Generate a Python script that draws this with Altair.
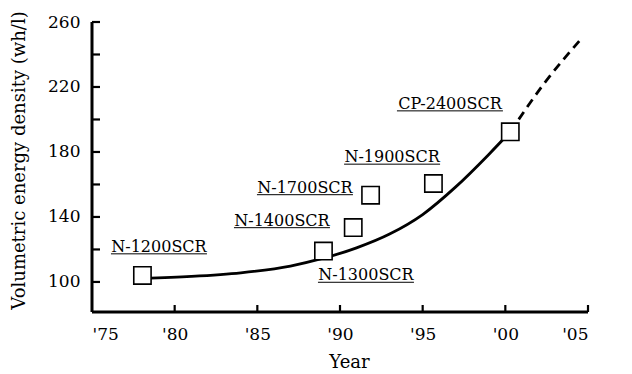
import altair as alt
import pandas as pd

# ---- data ----
products = ["N-1200SCR", "N-1300SCR", "N-1400SCR", "N-1700SCR", "N-1900SCR", "CP-2400SCR"]
prod_year = [1978.05, 1989.0, 1990.8, 1991.85, 1995.65, 2000.3]
prod_value = [104.0, 119.0, 133.5, 153.4, 160.6, 192.4]

label_year = [1979.05, 1991.57, 1986.49, 1987.88, 1993.15, 1996.65]
label_value = [117.3, 99.8, 133.4, 153.7, 172.5, 205.3]

trend_year = [1978.05, 1981.0, 1984.0, 1987.0, 1989.0, 1991.0, 1993.0, 1995.0, 1997.0, 1999.0, 2000.3]
trend_value = [102.2, 103.4, 105.6, 109.8, 114.6, 121.0, 129.5, 141.5, 158.5, 178.5, 192.4]

proj_year = [2000.3, 2002.3, 2004.67]
proj_value = [192.4, 221.5, 250.6]

y_ticks = [100, 120, 140, 160, 180, 200, 220, 240, 260]
x_ticks = [1980, 1985, 1990, 1995, 2000, 2005]
x_labels = [1975, 1980, 1985, 1990, 1995, 2000, 2005]
y_labels = [100, 140, 180, 220, 260]
x_domain = [1975, 2005]
y_domain = [81.5, 260]

FONT = "DejaVu Serif"

pts = pd.DataFrame({"label": products, "year": prod_year, "value": prod_value})
labels = pd.DataFrame({"label": products, "year": label_year, "value": label_value})
trend = pd.DataFrame({"year": trend_year, "value": trend_value})
proj = pd.DataFrame({"year": proj_year, "value": proj_value})
yt = pd.DataFrame({"value": y_ticks, "year": [x_domain[0]] * len(y_ticks)})
xt = pd.DataFrame({"year": x_ticks, "value": [y_domain[0]] * len(x_ticks)})
frame_v = pd.DataFrame({"year": [x_domain[0]], "value": [y_domain[0]], "value2": [y_domain[1]]})
frame_h = pd.DataFrame({"year": [x_domain[0]], "year2": [x_domain[1]], "value": [y_domain[0]]})

xscale = alt.Scale(domain=x_domain, nice=False, zero=False)
yscale = alt.Scale(domain=y_domain, nice=False, zero=False)

xaxis = alt.Axis(
    values=x_labels,
    labelExpr="\"'\" + substring(format(datum.value, 'd'), 2)",
    labelPadding=14, labelFontSize=17, domain=False,
    title="Year", titleFontSize=18,
    titleX=257, titleY=50, titleBaseline="middle",
)
yaxis = alt.Axis(
    values=y_labels,
    labelPadding=12, labelFontSize=17, domain=False,
    title="Volumetric energy density (wh/l)", titleFontSize=18,
    titleX=-73, titleY=138, titleBaseline="middle", titleAngle=-90, titleAlign="center",
)

X = alt.X("year:Q", scale=xscale, axis=xaxis)
Y = alt.Y("value:Q", scale=yscale, axis=yaxis)

line_solid = alt.Chart(trend).mark_line(color="black", strokeWidth=2.8, interpolate="monotone").encode(
    x=X, y=Y)
line_dash = alt.Chart(proj).mark_line(color="black", strokeWidth=2.8, strokeDash=[9, 6],
                                      interpolate="monotone").encode(x=X, y=Y)

squares = alt.Chart(pts).mark_square(size=300, filled=True, fill="white", stroke="black",
                                     strokeWidth=1.6, opacity=1).encode(x=X, y=Y)

text = alt.Chart(labels).mark_text(font=FONT, fontSize=16, color="black", align="center",
                                   baseline="alphabetic", dy=-2).encode(
    x=X, y=Y, text="label:N")

ul_n = alt.Chart(labels).transform_filter("indexof(datum.label, 'N-') == 0").mark_rule(
    color="black", strokeWidth=1, xOffset=-48, x2Offset=48).encode(
    x=X, x2="year:Q", y=Y)
ul_cp = alt.Chart(labels).transform_filter("indexof(datum.label, 'CP-') == 0").mark_rule(
    color="black", strokeWidth=1, xOffset=-53, x2Offset=53).encode(
    x=X, x2="year:Q", y=Y)

ytick_marks = alt.Chart(yt).mark_rule(color="black", strokeWidth=2.2, x2Offset=8).encode(
    y=Y, x=X, x2="year:Q")
xtick_marks = alt.Chart(xt).mark_rule(color="black", strokeWidth=2.2, y2Offset=-7).encode(
    x=X, y=Y, y2="value:Q")

axis_v = alt.Chart(frame_v).mark_rule(color="black", strokeWidth=3).encode(
    x=X, y=Y, y2="value2:Q")
axis_h = alt.Chart(frame_h).mark_rule(color="black", strokeWidth=3).encode(
    x=X, x2="year2:Q", y=Y)

chart = alt.layer(
    line_solid, line_dash, squares, ul_n, ul_cp, text, ytick_marks, xtick_marks, axis_v, axis_h
).properties(
    width=496, height=290,
    autosize=alt.AutoSizeParams(type="none"),
    padding={"left": 92, "top": 22, "right": 44, "bottom": 62},
    background="white",
).configure_view(stroke=None).configure_axis(
    ticks=False, grid=False,
    labelFont=FONT, labelColor="black", titleFont=FONT, titleColor="black",
    titleFontWeight="normal",
)

chart.save("out.html", embed_options={"renderer": "svg", "actions": False})
